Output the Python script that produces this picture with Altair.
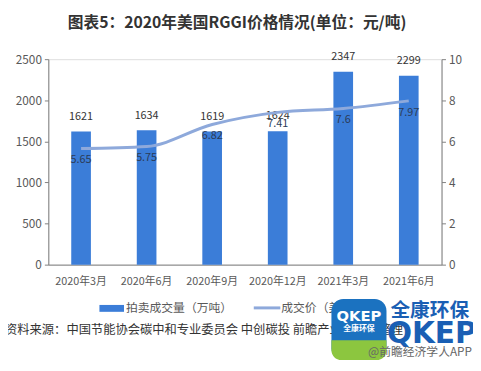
import altair as alt
import pandas as pd

months = ["2020年3月", "2020年6月", "2020年9月", "2020年12月", "2021年3月", "2021年6月"]
volumes = [1621, 1634, 1619, 1624, 2347, 2299]
prices = [5.65, 5.75, 6.82, 7.41, 7.6, 7.97]
price_labels = ["5.65", "5.75", "6.82", "7.41", "7.6", "7.97"]

df = pd.DataFrame({"month": months, "volume": volumes, "price": prices, "plabel": price_labels})

FONT = "Noto Sans CJK SC"
W, H = 400, 209

x = alt.X("month:N", sort=months, title=None,
          scale=alt.Scale(paddingInner=0.7, paddingOuter=0.35),
          axis=alt.Axis(labelAngle=0, ticks=False, labelPadding=11, labelFontSize=11,
                        labelColor="#595959", labelFont=FONT, domainColor="#808080"))

yl = alt.Y("volume:Q", title=None, scale=alt.Scale(domain=[0, 2500]),
           axis=alt.Axis(values=[0, 500, 1000, 1500, 2000, 2500], format="d", grid=False, tickSize=4,
                         tickColor="#808080", domainColor="#808080", labelFontSize=12,
                         labelColor="#595959", labelFont=FONT, labelPadding=3))
yr = alt.Y("price:Q", title=None, scale=alt.Scale(domain=[0, 10]),
           axis=alt.Axis(orient="right", values=[0, 2, 4, 6, 8, 10], format="d", grid=False, tickSize=4,
                         tickColor="#808080", domainColor="#808080", labelFontSize=12,
                         labelColor="#595959", labelFont=FONT, labelPadding=3))

base = alt.Chart(df)
bars = base.mark_bar(color="#3b7dd8").encode(x=x, y=yl)
bar_text = base.mark_text(dy=-15, fontSize=11, font=FONT, color="#333333").encode(
    x=x, y=yl, text="volume:Q")
left = alt.layer(bars, bar_text)

line = base.mark_line(color="#8ea9db", strokeWidth=3, interpolate="monotone").encode(x=x, y=yr)
line_text = base.mark_text(dy=12, fontSize=11, font=FONT, color="#2b3b57").encode(
    x=x, y=yr, text="plabel:N")
right = alt.layer(line, line_text)

ann = pd.DataFrame({"k": [0]})
a = alt.Chart(ann)
title = a.mark_text(text="图表5：2020年美国RGGI价格情况(单位：元/吨)", font=FONT, fontSize=16,
                    fontWeight="bold", color="#333333").encode(x=alt.value(192), y=alt.value(-37))
sw1 = a.mark_rect(color="#3b7dd8").encode(x=alt.value(52), x2=alt.value(77), y=alt.value(250), y2=alt.value(257))
lt1 = a.mark_text(text="拍卖成交量（万吨）", font=FONT, fontSize=12, color="#595959", align="left",
                  baseline="middle").encode(x=alt.value(79), y=alt.value(253))
sw2 = a.mark_rule(color="#8ea9db", strokeWidth=3).encode(x=alt.value(209), x2=alt.value(236), y=alt.value(253))
lt2 = a.mark_text(text="成交价（美元/吨）", font=FONT, fontSize=12, color="#595959", align="left",
                  baseline="middle").encode(x=alt.value(237), y=alt.value(253))
src = a.mark_text(text="资料来源：中国节能协会碳中和专业委员会 中创碳投 前瞻产业研究院整理", font=FONT,
                  fontSize=12.5, color="#333333", align="left", baseline="middle").encode(
    x=alt.value(-44), y=alt.value(276))

# logo overlay
logo_blue = a.mark_rect(color="#1b72c0", cornerRadius=12).encode(
    x=alt.value(288), x2=alt.value(344), y=alt.value(244), y2=alt.value(306))
logo_green = a.mark_rect(color="#8cc63f", cornerRadiusBottomLeft=12, cornerRadiusBottomRight=12).encode(
    x=alt.value(288), x2=alt.value(344), y=alt.value(286), y2=alt.value(306))
logo_t1 = a.mark_text(text="QKEP", font="DejaVu Sans", fontSize=15, fontWeight="bold", color="white",
                      baseline="middle").encode(x=alt.value(316), y=alt.value(261))
logo_t2 = a.mark_text(text="全康环保", font=FONT, fontSize=8, fontWeight="bold", color="white",
                      baseline="middle").encode(x=alt.value(316), y=alt.value(275))
brand1 = a.mark_text(text="全康环保", font=FONT, fontSize=20, fontWeight="bold", color="#1a5fb4",
                     baseline="middle").encode(x=alt.value(388), y=alt.value(256))
brand2 = a.mark_text(text="QKEP", font="DejaVu Sans", fontSize=30, fontWeight="bold", color="#1a5fb4",
                     baseline="middle").encode(x=alt.value(390), y=alt.value(280))
app = a.mark_text(text="@前瞻经济学人APP", font=FONT, fontSize=12, color="#666666", align="right",
                  baseline="middle").encode(x=alt.value(431), y=alt.value(298))

main = alt.layer(left, right).resolve_scale(y="independent")
chart = alt.layer(main, title, sw1, lt1, sw2, lt2, src,
                  logo_blue, logo_green, logo_t1, logo_t2, brand1, brand2, app).properties(
    width=W, height=H,
    autosize=alt.AutoSizeParams(type="none"),
    padding={"left": 41, "top": 49, "right": 32, "bottom": 97},
).configure_view(stroke=None).configure(background="white")

chart.save("out.html", embed_options={"renderer": "svg", "actions": False})
